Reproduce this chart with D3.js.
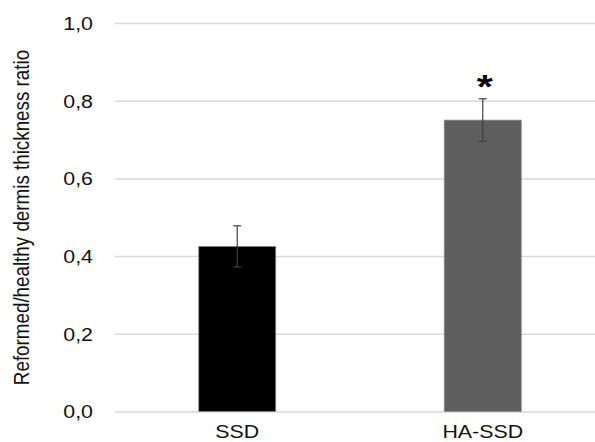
<!DOCTYPE html>
<html lang="en">
<head>
  <meta charset="UTF-8">
  <title>Dermis thickness ratio</title>
  <style>
    body { margin: 0; background: #fff; }
    text { font-family: "Liberation Sans", Arial, sans-serif; }
  </style>
</head>
<body>
  <div id="chart"></div>
  <script src="https://d3js.org/d3.v7.min.js"></script>
  <script>
    // data
    var categories = ["SSD", "HA-SSD"];
    var values = [0.425, 0.75];
    var errors = [0.053, 0.055];
    var barColors = ["#000000", "#5e5e5e"];
    var significant = [false, true];
    var yTicks = [0, 0.2, 0.4, 0.6, 0.8, 1.0];
    var yTitle = "Reformed/healthy dermis thickness ratio";

    var W = 595, H = 442;
    var plotLeft = 114.5, plotRight = 605.5, plotTop = 23, plotBottom = 411.5;
    var stretch = 1.22; // the original picture is widened, text looks wide too

    var svg = d3.select("#chart").append("svg")
      .attr("width", W).attr("height", H);

    var x = d3.scalePoint().domain(categories).range([plotLeft, plotRight]).padding(0.5);
    var y = d3.scaleLinear().domain([0, 1]).range([plotBottom, plotTop]);

    // gridlines + tick labels
    var yAxis = d3.axisLeft(y)
      .tickValues(yTicks)
      .tickSize(-(W - plotLeft))
      .tickFormat(function(d) { return d3.format(".1f")(d).replace(".", ","); });

    var gy = svg.append("g")
      .attr("transform", "translate(" + plotLeft + ",0)")
      .call(yAxis);
    gy.select(".domain").remove();
    gy.selectAll(".tick line")
      .attr("stroke", "#d9d9d9")
      .attr("stroke-width", 1.5);
    gy.selectAll(".tick text")
      .attr("x", -21.5 / stretch)
      .attr("dy", "0.37em")
      .attr("transform", "scale(" + stretch + ",1)")
      .attr("font-size", 17.5)
      .attr("fill", "#111")
      .style("font-family", "'Liberation Sans', Arial, sans-serif");

    var data = categories.map(function(c, i) {
      return { cat: c, v: values[i], e: errors[i], color: barColors[i], sig: significant[i] };
    });

    var barW = 77;

    svg.append("g").selectAll("rect")
      .data(data)
      .enter()
      .append("rect")
      .attr("x", function(d) { return x(d.cat) - barW / 2; })
      .attr("y", function(d) { return y(d.v); })
      .attr("width", barW)
      .attr("height", function(d) { return y(0) - y(d.v); })
      .attr("fill", function(d) { return d.color; })
      .attr("stroke", "#8a8a8a")
      .attr("stroke-width", 0.8);

    // error bars
    var eb = svg.append("g").selectAll("g")
      .data(data)
      .enter()
      .append("g")
      .attr("stroke", "#404040")
      .attr("stroke-width", 1.2);
    eb.append("line")
      .attr("x1", function(d) { return x(d.cat); })
      .attr("x2", function(d) { return x(d.cat); })
      .attr("y1", function(d) { return y(d.v + d.e); })
      .attr("y2", function(d) { return y(d.v - d.e); });
    eb.append("line")
      .attr("x1", function(d) { return x(d.cat) - 4; })
      .attr("x2", function(d) { return x(d.cat) + 4; })
      .attr("y1", function(d) { return y(d.v + d.e); })
      .attr("y2", function(d) { return y(d.v + d.e); });
    eb.append("line")
      .attr("x1", function(d) { return x(d.cat) - 4; })
      .attr("x2", function(d) { return x(d.cat) + 4; })
      .attr("y1", function(d) { return y(d.v - d.e); })
      .attr("y2", function(d) { return y(d.v - d.e); });

    // asterisk
    svg.append("g").selectAll("text")
      .data(data.filter(function(d) { return d.sig; }))
      .enter()
      .append("text")
      .attr("transform", function(d) {
        return "translate(" + (x(d.cat) + 2) + "," + (y(d.v + d.e) - 1) + ") scale(" + stretch + ",1)";
      })
      .attr("text-anchor", "middle")
      .attr("font-size", 34)
      .attr("font-weight", "bold")
      .attr("fill", "#000")
      .text("*");

    // category labels
    svg.append("g").selectAll("text")
      .data(categories)
      .enter()
      .append("text")
      .attr("transform", function(d) {
        return "translate(" + x(d) + "," + 438 + ") scale(" + stretch + ",1)";
      })
      .attr("text-anchor", "middle")
      .attr("font-size", 17.5)
      .attr("fill", "#111")
      .text(function(d) { return d; });

    // y title
    svg.append("text")
      .attr("transform", "translate(29," + 217.5 + ") scale(1.15,1) rotate(-90)")
      .attr("text-anchor", "middle")
      .attr("font-size", 18.8)
      .attr("fill", "#111")
      .text(yTitle);
  </script>
</body>
</html>
